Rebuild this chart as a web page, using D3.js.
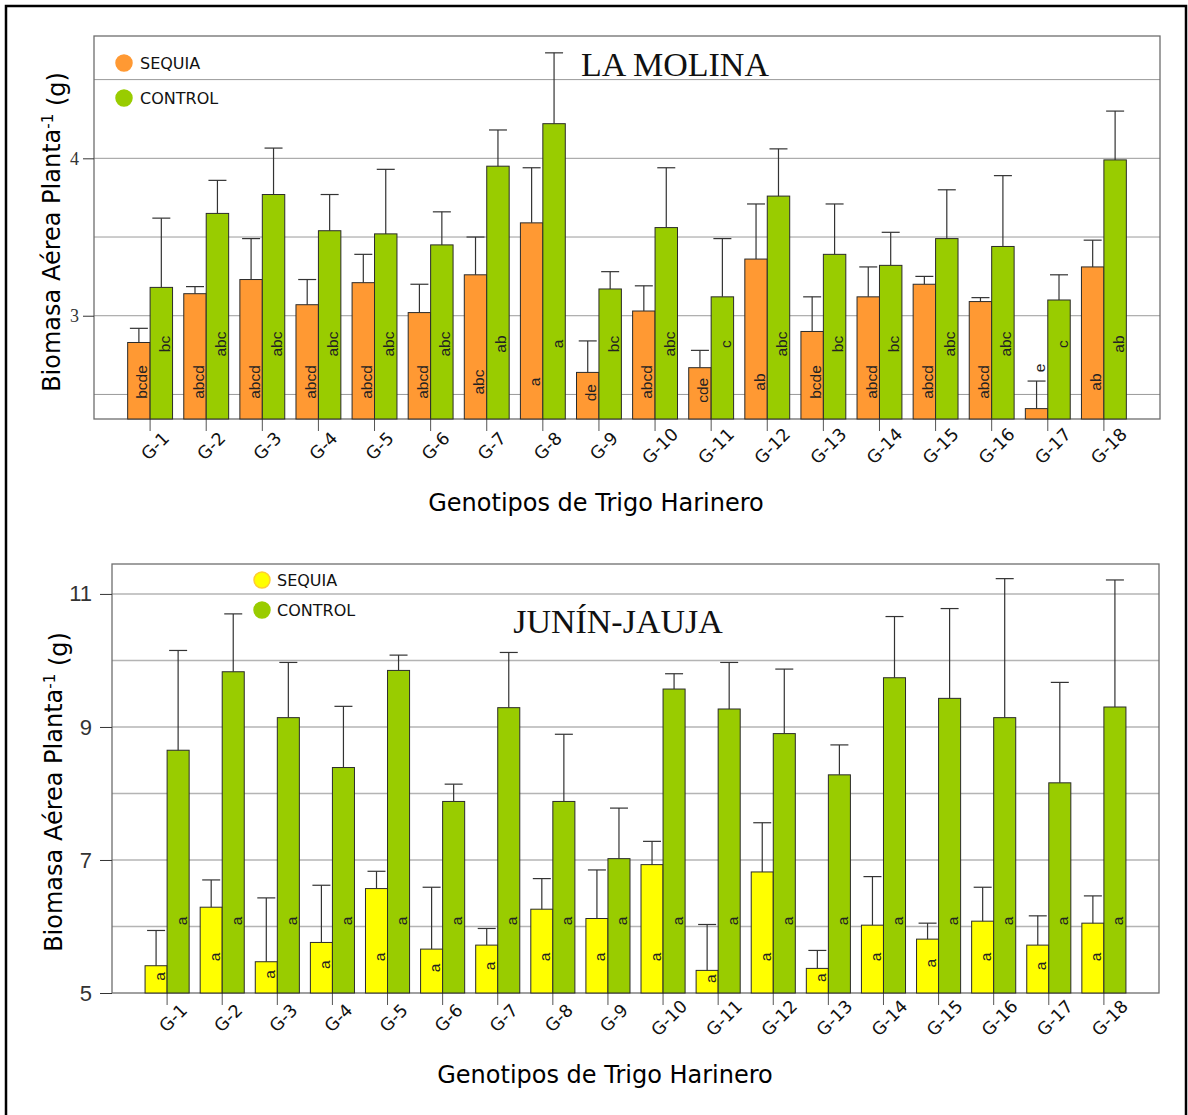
<!DOCTYPE html>
<html>
<head>
<meta charset="utf-8">
<script src="https://cdn.jsdelivr.net/npm/d3@7"></script>
<style>
  body { margin: 0; background: #fff; }
  svg { display: block; }
</style>
</head>
<body>
<svg id="chart" width="1188" height="1115"></svg>
<script>
"use strict";

var genotypes = ["G-1", "G-2", "G-3", "G-4", "G-5", "G-6", "G-7", "G-8", "G-9",
                 "G-10", "G-11", "G-12", "G-13", "G-14", "G-15", "G-16", "G-17", "G-18"];
var series = ["SEQUIA", "CONTROL"];

// La Molina
var molinaSequia = [2.83, 3.14, 3.23, 3.07, 3.21, 3.02, 3.26, 3.59, 2.64, 3.03, 2.67, 3.36, 2.90, 3.12, 3.20, 3.09, 2.41, 3.31];
var molinaSequiaErr = [0.09, 0.045, 0.26, 0.16, 0.18, 0.18, 0.24, 0.35, 0.20, 0.16, 0.11, 0.35, 0.22, 0.19, 0.05, 0.025, 0.175, 0.17];
var molinaControl = [3.18, 3.65, 3.77, 3.54, 3.52, 3.45, 3.95, 4.22, 3.17, 3.56, 3.12, 3.76, 3.39, 3.32, 3.49, 3.44, 3.10, 3.99];
var molinaControlErr = [0.44, 0.21, 0.295, 0.23, 0.41, 0.21, 0.23, 0.45, 0.11, 0.38, 0.37, 0.30, 0.32, 0.21, 0.31, 0.45, 0.16, 0.31];
var molinaSequiaLetters = ["bcde", "abcd", "abcd", "abcd", "abcd", "abcd", "abc", "a", "de", "abcd", "cde", "ab", "bcde", "abcd", "abcd", "abcd", "e", "ab"];
var molinaControlLetters = ["bc", "abc", "abc", "abc", "abc", "abc", "ab", "a", "bc", "abc", "c", "abc", "bc", "bc", "abc", "abc", "c", "ab"];
var molinaTicks = [3, 4];
var molinaGrid = [2.5, 3, 3.5, 4, 4.5];

// Junin - Jauja
var jaujaSequia = [5.41, 6.29, 5.47, 5.76, 6.57, 5.66, 5.72, 6.26, 6.12, 6.93, 5.34, 6.82, 5.37, 6.02, 5.81, 6.08, 5.72, 6.05];
var jaujaSequiaErr = [0.53, 0.41, 0.96, 0.86, 0.26, 0.93, 0.25, 0.46, 0.73, 0.35, 0.69, 0.74, 0.27, 0.73, 0.24, 0.51, 0.44, 0.41];
var jaujaControl = [8.65, 9.83, 9.14, 8.39, 9.85, 7.88, 9.29, 7.88, 7.02, 9.57, 9.27, 8.90, 8.28, 9.74, 9.43, 9.14, 8.16, 9.30];
var jaujaControlErr = [1.50, 0.87, 0.83, 0.92, 0.23, 0.26, 0.83, 1.01, 0.76, 0.23, 0.70, 0.97, 0.45, 0.92, 1.35, 2.09, 1.51, 1.91];
var jaujaSequiaLetters = genotypes.map(function () { return "a"; });
var jaujaControlLetters = genotypes.map(function () { return "a"; });
var jaujaTicks = [5, 7, 9, 11];
var jaujaGrid = [6, 7, 8, 9, 10, 11];

var SANS = "'DejaVu Sans', Verdana, sans-serif";
var ARIAL = "'Liberation Sans', Arial, sans-serif";
var SERIF = "'Liberation Serif', 'Times New Roman', serif";

var svg = d3.select("#chart");

// outer frame
svg.append("rect")
    .attr("x", 6).attr("y", 6)
    .attr("width", 1180).attr("height", 1120)
    .attr("fill", "none")
    .attr("stroke", "#000")
    .attr("stroke-width", 2.5);

function drawPanel(opt) {
    var g = svg.append("g").attr("transform", "translate(" + opt.left + "," + opt.top + ")");
    var w = opt.width, h = opt.height;

    var y = d3.scaleLinear().domain(opt.yDomain).range([h, 0]);
    var x0 = d3.scaleBand().domain(genotypes).range([0, w]).paddingInner(0.2).paddingOuter(0.6);
    var x1 = d3.scaleBand().domain(series).range([0, x0.bandwidth()]);

    // grid
    g.selectAll("line.grid")
        .data(opt.grid)
        .enter().append("line")
        .attr("class", "grid")
        .attr("x1", 0).attr("x2", w)
        .attr("y1", function (d) { return y(d); })
        .attr("y2", function (d) { return y(d); })
        .attr("stroke", opt.gridColor)
        .attr("stroke-width", opt.gridWidth);

    // frame of the plot
    g.append("rect")
        .attr("width", w).attr("height", h)
        .attr("fill", "none")
        .attr("stroke", "#6e6e6e")
        .attr("stroke-width", 1.3);

    // y axis
    var yAxis = g.append("g")
        .call(d3.axisLeft(y).tickValues(opt.ticks).tickSize(opt.tickLen).tickSizeOuter(0)
            .tickPadding(opt.tickPad).tickFormat(d3.format("d")));
    yAxis.select(".domain").remove();
    yAxis.selectAll(".tick line").attr("stroke", "#333");
    yAxis.selectAll(".tick text")
        .attr("fill", "#333")
        .style("font-family", opt.tickFont)
        .style("font-size", opt.tickFontSize + "px");

    // x axis
    var xAxis = g.append("g")
        .attr("transform", "translate(0," + h + ")")
        .call(d3.axisBottom(x0).tickSize(12).tickSizeOuter(0));
    xAxis.select(".domain").remove();
    xAxis.selectAll(".tick line").attr("stroke", "#555");
    xAxis.selectAll(".tick text")
        .attr("x", 0).attr("y", 0).attr("dy", "0.35em")
        .attr("transform", "translate(" + opt.catDx + "," + opt.catDy + ") rotate(-45)")
        .attr("fill", "#111")
        .style("text-anchor", "middle")
        .style("font-family", SANS)
        .style("font-size", "17.5px");

    var rows = genotypes.map(function (gen, i) {
        return {
            gen: gen,
            bars: [
                {key: series[0], value: opt.sequia[i], err: opt.sequiaErr[i], letter: opt.sequiaLetters[i], color: opt.colors[0]},
                {key: series[1], value: opt.control[i], err: opt.controlErr[i], letter: opt.controlLetters[i], color: opt.colors[1]}
            ]
        };
    });

    var groups = g.selectAll("g.grp")
        .data(rows)
        .enter().append("g")
        .attr("class", "grp")
        .attr("transform", function (d) { return "translate(" + x0(d.gen) + ",0)"; });

    var bars = groups.selectAll("g.bar")
        .data(function (d) { return d.bars; })
        .enter().append("g")
        .attr("class", "bar");

    bars.append("rect")
        .attr("x", function (d) { return x1(d.key); })
        .attr("width", x1.bandwidth())
        .attr("y", function (d) { return y(d.value); })
        .attr("height", function (d) { return h - y(d.value); })
        .attr("fill", function (d) { return d.color; })
        .attr("stroke", "#2b2b2b")
        .attr("stroke-width", 1);

    var cx = function (d) { return x1(d.key) + x1.bandwidth() / 2; };

    // error bars (upper only)
    bars.append("line")
        .attr("x1", cx).attr("x2", cx)
        .attr("y1", function (d) { return y(d.value); })
        .attr("y2", function (d) { return y(d.value + d.err); })
        .attr("stroke", "#333").attr("stroke-width", 1.2);
    bars.append("line")
        .attr("x1", function (d) { return cx(d) - 9; })
        .attr("x2", function (d) { return cx(d) + 9; })
        .attr("y1", function (d) { return y(d.value + d.err); })
        .attr("y2", function (d) { return y(d.value + d.err); })
        .attr("stroke", "#333").attr("stroke-width", 1.2);

    // significance letters
    bars.append("text")
        .attr("transform", function (d) {
            var top = y(d.value), ly;
            if (d.key === series[1]) {
                ly = opt.highLabelY;
            } else if (h - top < 20) {
                ly = y(d.value + d.err) - 13;
            } else {
                ly = Math.max(opt.lowLabelY, (top + h) / 2 - 3);
            }
            return "translate(" + cx(d) + "," + ly + ") rotate(-90)";
        })
        .attr("dy", "0.55em")
        .attr("text-anchor", "middle")
        .attr("fill", "#222")
        .style("font-family", ARIAL)
        .style("font-size", "15.5px")
        .text(function (d) { return d.letter; });

    // legend
    var lg = svg.append("g");
    series.forEach(function (s, i) {
        lg.append("circle")
            .attr("cx", opt.legend.x).attr("cy", opt.legend.ys[i])
            .attr("r", 8)
            .attr("fill", opt.colors[i])
            .attr("stroke", opt.legend.strokes[i])
            .attr("stroke-width", 1.5);
        lg.append("text")
            .attr("x", opt.legend.tx).attr("y", opt.legend.ys[i])
            .attr("dy", "0.36em")
            .attr("fill", "#111")
            .style("font-family", SANS)
            .style("font-size", "16px")
            .text(s);
    });

    // title
    svg.append("text")
        .attr("x", opt.titleX).attr("y", opt.titleY)
        .attr("text-anchor", "middle")
        .attr("fill", "#111")
        .style("font-family", SERIF)
        .style("font-size", "34px")
        .text(opt.title);

    // axis titles
    var yt = svg.append("text")
        .attr("transform", "translate(" + opt.yTitleX + "," + opt.yTitleY + ") rotate(-90)")
        .attr("text-anchor", "middle")
        .attr("fill", "#000")
        .style("font-family", SANS)
        .style("font-size", "24px");
    yt.append("tspan").text("Biomasa Aérea Planta");
    yt.append("tspan").attr("dy", "-0.5em").style("font-size", "15px").text("-1");
    yt.append("tspan").attr("dy", "0.5em").text(" (g)");

    svg.append("text")
        .attr("x", opt.xTitleX).attr("y", opt.xTitleY)
        .attr("text-anchor", "middle")
        .attr("fill", "#000")
        .style("font-family", SANS)
        .style("font-size", "24px")
        .text("Genotipos de Trigo Harinero");
}

drawPanel({
    left: 94, top: 36, width: 1066, height: 383,
    yDomain: [2.344, 4.777],
    ticks: molinaTicks, grid: molinaGrid,
    gridColor: "#9a9a9a", gridWidth: 1,
    tickLen: 11, tickPad: 4, tickFont: SERIF, tickFontSize: 18,
    catDx: 5, catDy: 27,
    colors: ["#FF9933", "#99CC00"],
    sequia: molinaSequia, sequiaErr: molinaSequiaErr,
    control: molinaControl, controlErr: molinaControlErr,
    sequiaLetters: molinaSequiaLetters, controlLetters: molinaControlLetters,
    lowLabelY: 346, highLabelY: 308,
    legend: {x: 124, tx: 140, ys: [63, 98], strokes: ["#FF9933", "#99CC00"]},
    title: "LA MOLINA", titleX: 675, titleY: 76,
    yTitleX: 60, yTitleY: 232,
    xTitleX: 596, xTitleY: 511
});

drawPanel({
    left: 112, top: 564, width: 1047, height: 429,
    yDomain: [5, 11.45],
    ticks: jaujaTicks, grid: jaujaGrid,
    gridColor: "#b4b4b4", gridWidth: 1.6,
    tickLen: 12, tickPad: 8, tickFont: ARIAL, tickFontSize: 22,
    catDx: 6, catDy: 25,
    colors: ["#FFFF00", "#99CC00"],
    sequia: jaujaSequia, sequiaErr: jaujaSequiaErr,
    control: jaujaControl, controlErr: jaujaControlErr,
    sequiaLetters: jaujaSequiaLetters, controlLetters: jaujaControlLetters,
    lowLabelY: 393, highLabelY: 357,
    legend: {x: 262, tx: 277, ys: [580, 610], strokes: ["#FFCC33", "#99CC00"]},
    title: "JUNÍN-JAUJA", titleX: 618, titleY: 633,
    yTitleX: 62, yTitleY: 792,
    xTitleX: 605, xTitleY: 1083
});
</script>
</body>
</html>
